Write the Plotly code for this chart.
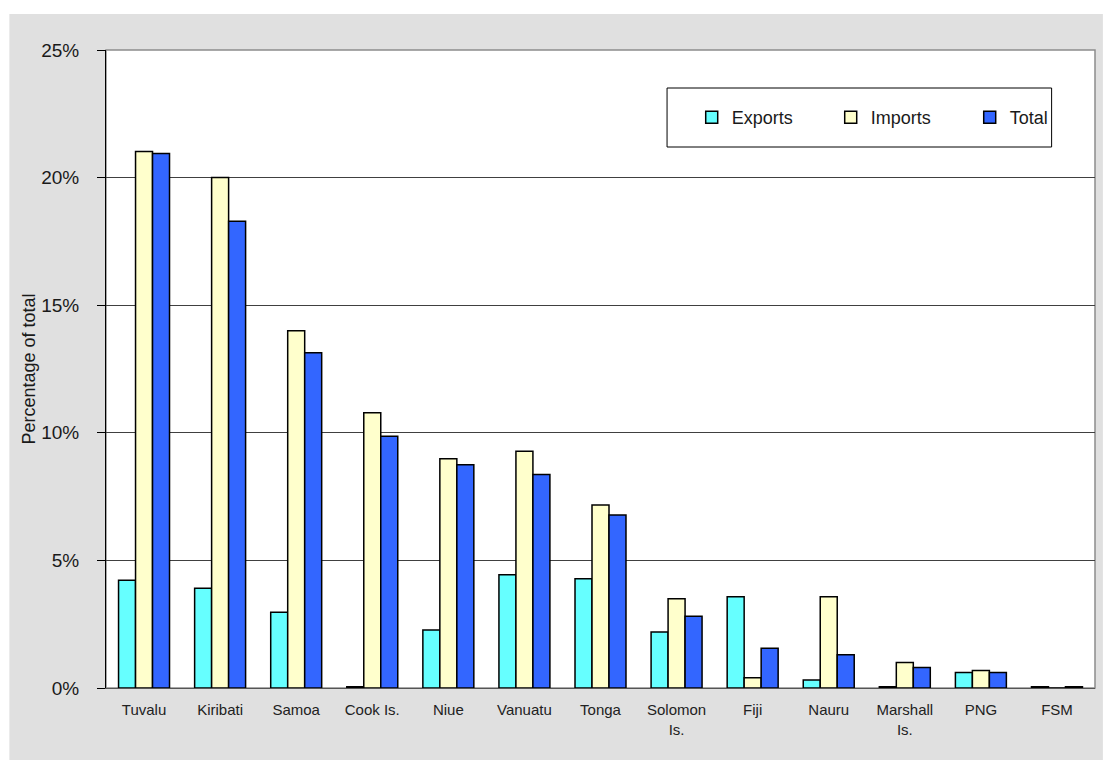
import plotly.graph_objects as go

countries = ["Tuvalu", "Kiribati", "Samoa", "Cook Is.", "Niue", "Vanuatu", "Tonga",
             "Solomon<br>Is.", "Fiji", "Nauru", "Marshall<br>Is.", "PNG", "FSM"]
exports = [4.22, 3.91, 2.97, 0.05, 2.27, 4.44, 4.28, 2.19, 3.58, 0.31, 0.05, 0.61, 0.05]
imports = [21.02, 20.0, 14.0, 10.79, 8.98, 9.28, 7.17, 3.50, 0.40, 3.58, 1.00, 0.69, 0.0]
total = [20.94, 18.29, 13.14, 9.86, 8.75, 8.37, 6.78, 2.81, 1.56, 1.30, 0.80, 0.61, 0.05]
y_ticks = [0, 5, 10, 15, 20, 25]
y_tick_labels = ["0%", "5%", "10%", "15%", "20%", "25%"]

W, H = 1112, 760
L, R, T, B = 106, 3, 50, 72
pw, ph = W - L - R, H - T - B

def px_x(x):
    return (x - L) / pw

def px_y(y):
    return (H - B - y) / ph

FONT = "Liberation Sans, Arial, sans-serif"

fig = go.Figure()
for name, vals, col in [("Exports", exports, "#66FFFF"),
                        ("Imports", imports, "#FFFFCC"),
                        ("Total", total, "#3366FF")]:
    fig.add_trace(go.Bar(x=countries, y=vals, name=name,
                         marker=dict(color=col, line=dict(color="black", width=1.5))))

shapes = [
    # gray outer background
    dict(type="rect", xref="paper", yref="paper", layer="below",
         x0=px_x(8), x1=px_x(W + 5), y0=px_y(H + 5), y1=px_y(14),
         fillcolor="#E0E0E0", line=dict(width=0)),
    # plot area
    dict(type="rect", xref="paper", yref="paper", layer="below",
         x0=0, x1=1, y0=0, y1=1, fillcolor="white", line=dict(color="#8C8C8C", width=1.5)),
    # legend box
    dict(type="rect", xref="paper", yref="paper", layer="below",
         x0=px_x(675), x1=px_x(1065), y0=px_y(147), y1=px_y(88),
         fillcolor="white", line=dict(color="black", width=1)),
]

fig.update_layout(
    width=W, height=H,
    margin=dict(l=L, r=R, t=T, b=B, pad=0),
    paper_bgcolor="white", plot_bgcolor="rgba(0,0,0,0)",
    barmode="group", bargap=0.33, bargroupgap=0,
    font=dict(family=FONT, color="#1a1a1a"),
    shapes=shapes,
    showlegend=True,
    legend=dict(orientation="h", x=px_x(700), xanchor="left",
                y=px_y(117.5), yanchor="middle",
                bgcolor="rgba(0,0,0,0)", borderwidth=0,
                font=dict(size=18, family=FONT, color="#1a1a1a"),
                entrywidth=94, entrywidthmode="pixels",
                traceorder="normal"),
    xaxis=dict(showgrid=False, showline=True, linecolor="#555555", linewidth=1,
               ticks="", tickfont=dict(size=15, family=FONT, color="#222222"),
               ticklabelstandoff=8, fixedrange=True, automargin=False),
    yaxis=dict(range=[0, 25], tickmode="array", tickvals=y_ticks, ticktext=y_tick_labels,
               showgrid=True, gridcolor="#404040", gridwidth=1,
               showline=True, linecolor="black", linewidth=1,
               ticks="outside", ticklen=8, tickcolor="black", tickwidth=1,
               tickfont=dict(size=19, family=FONT, color="#1a1a1a"),
               ticklabelstandoff=14, zeroline=False,
               title=dict(text="Percentage of total", standoff=0,
                          font=dict(size=18, family=FONT, color="#1a1a1a")),
               fixedrange=True, automargin=False),
)

fig.write_html("out.html")
